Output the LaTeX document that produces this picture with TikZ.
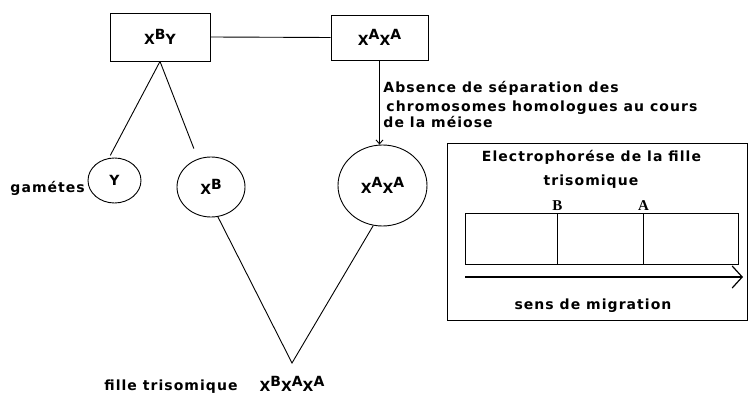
\documentclass[tikz,border=0pt]{standalone}
\usepackage{fontspec}
\setmainfont{DejaVu Sans}[LetterSpace=7.5]
\newfontfamily\bandfont{Liberation Serif}
\usetikzlibrary{arrows.meta, shapes.geometric}
\newcommand{\chrom}[1]{X\raisebox{.38em}{#1}}

\begin{document}
\begin{tikzpicture}[x=1pt, y=-1pt, font=\bfseries\fontsize{14}{17}\selectfont, line width=0.9pt,
  parent/.style={draw, minimum width=100pt, minimum height=48pt},
  gamete/.style={draw, ellipse, inner sep=0pt},
  cell/.style={draw, minimum height=51pt},
  band/.style={above, inner sep=2pt, font=\bandfont\bfseries\fontsize{15}{15}\selectfont}]
\useasboundingbox (0,0) rectangle (748,403);
\node[parent] (xby) at (160,37) {\chrom{B}Y};
\node[parent, minimum width=97pt, minimum height=45pt] (xaxa) at (379.5,37.5) {\chrom{A}\chrom{A}};
\node[gamete, minimum width=53pt, minimum height=45pt] (ygam) at (114.5,180.5) {Y};
\node[gamete, minimum width=68pt, minimum height=60pt] (xb) at (211,187) {\chrom{B}};
\node[gamete, minimum width=89pt, minimum height=81pt] (xaxac) at (382.5,185.5) {\chrom{A}\chrom{A}};
\node[anchor=base west, inner sep=0pt] (gam) at (10,193) {gamétes};
\coordinate (apex) at (292,363);
\node[anchor=base, inner sep=0pt] (child) at (292,392) {\chrom{B}\chrom{A}\chrom{A}};
\node[anchor=base east, inner sep=0pt] (fille) at (238,391) {fille trisomique};
\draw (xby.east) -- (xaxa.west);
\draw[shorten >=3pt] (xby.south) -- (ygam.104);
\draw[shorten >=11pt] (xby.south) -- (xb.115);
\draw[-{Straight Barb[length=4pt, width=7pt]}] (xaxa.south) -- (xaxa.south |- xaxac.north);
\draw (xb.283) -- (apex) -- (xaxac.257);
\foreach \x/\y/\txt in {383/93/Absence de séparation des, 386/112/chromosomes homologues au cours, 383/128/de la méiose}
  \node[anchor=base west, inner sep=0pt] at (\x,\y) {\txt};
\node[draw, minimum width=300pt, minimum height=177pt] (elec) at (597,231.5) {};
\node[anchor=base, inner sep=0pt] at (591.5,162) {Electrophorése de la fille};
\node[anchor=base, inner sep=0pt] at (591,186) {trisomique};
\foreach \i/\x/\w in {1/511/92, 2/600/86, 3/690.5/95}
  \node[cell, minimum width=\w pt] (gel\i) at (\x,238.5) {};
\node[band] at (gel1.north east) {B};
\node[band] at (gel2.north east) {A};
\coordinate (m0) at (465,277);
\coordinate (m1) at (743,277);
\draw[line width=1.6pt, -{Straight Barb[length=10pt, width=22pt, line width=1.2pt]}] (m0) -- (m1);
\node[anchor=base, inner sep=0pt] at (593,310) {sens de migration};
\end{tikzpicture}
\end{document}
